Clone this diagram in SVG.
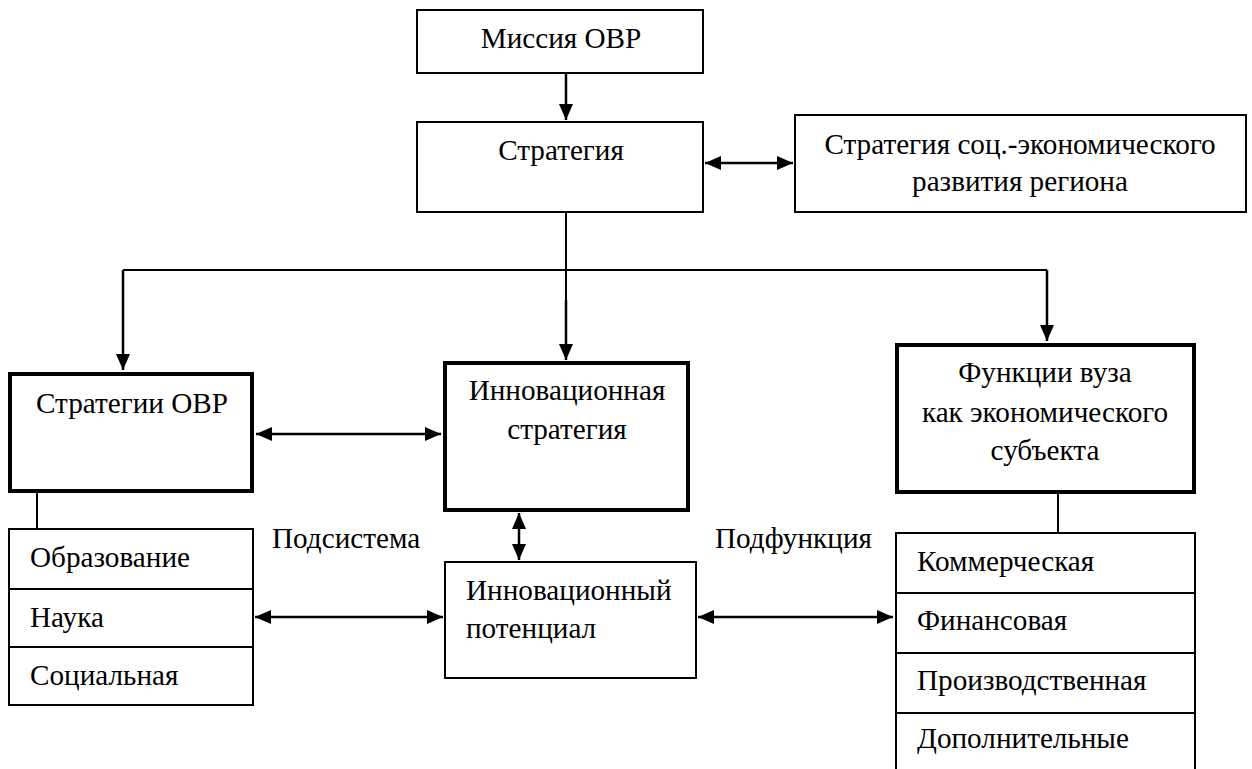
<svg xmlns="http://www.w3.org/2000/svg" width="1252" height="769" viewBox="0 0 1252 769">
  <style>
    .box { fill: #fff; stroke: #000; stroke-width: 2; }
    .bold { fill: #fff; stroke: #000; stroke-width: 4; }
    .ln { fill: none; stroke: #000; stroke-width: 2; }
    .ar { fill: none; stroke: #000; stroke-width: 2.5; marker-end: url(#ah); }
    .ar2 { fill: none; stroke: #000; stroke-width: 2.5; marker-start: url(#ah); marker-end: url(#ah); }
  </style>
  <defs>
    <marker id="ah" markerUnits="userSpaceOnUse" markerWidth="17" markerHeight="17" viewBox="0 0 17 17" refX="16" refY="8.5" orient="auto-start-reverse">
      <path d="M0,1.5 L16,8.5 L0,15.5 Z" fill="#000"/>
    </marker>
  </defs>

  <rect width="1252" height="769" fill="#fff"/>

  <!-- connectors -->
  <g id="connectors">
    <path class="ar" d="M566,73 V120"/>
    <path class="ar2" d="M705,163 H793"/>
    <path class="ln" d="M566,212 V300"/>
    <path class="ar" d="M566,300 V360"/>
    <path class="ln" d="M123,270 H1047"/>
    <path class="ar" d="M123,270 V370"/>
    <path class="ar" d="M1047,270 V341"/>
    <path class="ar2" d="M256,434 H441"/>
    <path class="ar2" d="M519,513 V560"/>
    <path class="ar2" d="M255,617 H443"/>
    <path class="ar2" d="M698,617 H893"/>
    <path class="ln" d="M37,492 V529"/>
    <path class="ln" d="M1058,494 V533"/>
  </g>

  <!-- all labels share one serif face -->
  <g font-family="Liberation Serif" font-size="29.2" fill="#000">
    <g id="mission">
      <rect class="box" x="417" y="10" width="286" height="63"/>
      <text x="561" y="48" text-anchor="middle" font-family="Liberation Serif">Миссия ОВР</text>
    </g>

    <g id="strategy">
      <rect class="box" x="417" y="122" width="286" height="90"/>
      <text x="561" y="160" text-anchor="middle" font-family="Liberation Serif">Стратегия</text>
    </g>

    <g id="region-strategy">
      <rect class="box" x="795" y="115" width="451" height="97"/>
      <text x="1020" y="154" text-anchor="middle" font-family="Liberation Serif">Стратегия соц.-экономического</text>
      <text x="1020" y="191" text-anchor="middle" font-family="Liberation Serif">развития региона</text>
    </g>

    <g id="ovr-strategies">
      <rect class="bold" x="10" y="374" width="242" height="117"/>
      <text x="132" y="413" text-anchor="middle" font-family="Liberation Serif">Стратегии ОВР</text>
    </g>

    <g id="innovation-strategy">
      <rect class="bold" x="445" y="363" width="243" height="147"/>
      <text x="567" y="400" text-anchor="middle" font-family="Liberation Serif">Инновационная</text>
      <text x="567" y="439" text-anchor="middle" font-family="Liberation Serif">стратегия</text>
    </g>

    <g id="university-functions">
      <rect class="bold" x="897" y="345" width="297" height="147"/>
      <text x="1045" y="382" text-anchor="middle" font-family="Liberation Serif">Функции вуза</text>
      <text x="1045" y="422" text-anchor="middle" font-family="Liberation Serif">как экономического</text>
      <text x="1045" y="460" text-anchor="middle" font-family="Liberation Serif">субъекта</text>
    </g>

    <g id="innovation-potential">
      <rect class="box" x="445" y="562" width="251" height="116"/>
      <text x="466" y="600" font-family="Liberation Serif">Инновационный</text>
      <text x="466" y="638" font-family="Liberation Serif">потенциал</text>
    </g>

    <g id="subsystems">
      <rect class="box" x="9" y="529" width="244" height="176"/>
      <path class="ln" d="M9,589 H253 M9,647 H253"/>
      <text x="30" y="567" font-family="Liberation Serif">Образование</text>
      <text x="30" y="627" font-family="Liberation Serif">Наука</text>
      <text x="30" y="685" font-family="Liberation Serif">Социальная</text>
    </g>

    <g id="subfunctions">
      <path class="ln" d="M896,780 V533 H1195 V780"/>
      <path class="ln" d="M896,593 H1195 M896,653 H1195 M896,713 H1195"/>
      <text x="917" y="571" font-family="Liberation Serif">Коммерческая</text>
      <text x="917" y="630" font-family="Liberation Serif">Финансовая</text>
      <text x="917" y="690" font-family="Liberation Serif">Производственная</text>
      <text x="917" y="748" font-family="Liberation Serif">Дополнительные</text>
    </g>

    <g id="labels">
      <text x="272" y="548" font-family="Liberation Serif">Подсистема</text>
      <text x="715" y="548" font-family="Liberation Serif">Подфункция</text>
    </g>
  </g>
</svg>
